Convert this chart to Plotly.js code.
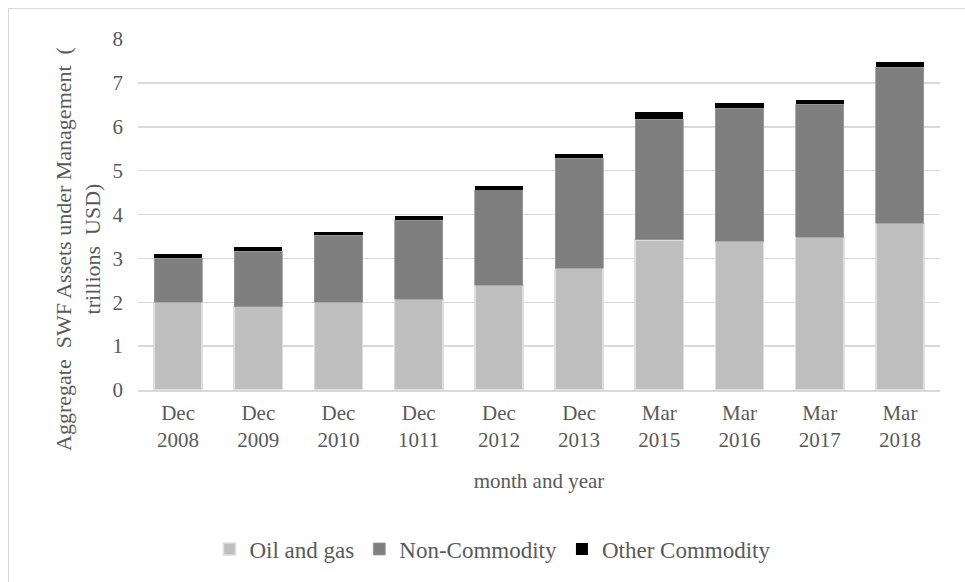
<!DOCTYPE html>
<html>
<head>
<meta charset="utf-8">
<script src="https://cdn.plot.ly/plotly-3.0.1.min.js"></script>
<style>
  html, body { margin: 0; padding: 0; background: #fff; }
  #wrap { position: relative; width: 965px; height: 582px; overflow: hidden; }
  #chart { position: absolute; left: 0; top: 0; width: 965px; height: 582px; }
  #frame { position: absolute; left: 8px; top: 8px; width: 970px; height: 590px;
           border-left: 1px solid #d9d9d9; border-top: 1px solid #d9d9d9; pointer-events: none; }
</style>
</head>
<body>
<div id="wrap">
  <div id="chart"></div>
  <div id="frame"></div>
</div>
<script>
const categories = ["Dec<br>2008", "Dec<br>2009", "Dec<br>2010", "Dec<br>1011", "Dec<br>2012",
                    "Dec<br>2013", "Mar<br>2015", "Mar<br>2016", "Mar<br>2017", "Mar<br>2018"];
const oilAndGas      = [2.00, 1.90, 2.00, 2.07, 2.39, 2.77, 3.42, 3.39, 3.48, 3.80];
const nonCommodity   = [1.00, 1.26, 1.53, 1.80, 2.17, 2.51, 2.75, 3.03, 3.03, 3.56];
const otherCommodity = [0.09, 0.09, 0.08, 0.10, 0.09, 0.11, 0.17, 0.12, 0.11, 0.11];
const yTicks = [0, 1, 2, 3, 4, 5, 6, 7, 8];

const font = "'Liberation Serif', 'Times New Roman', serif";
const textColor = "#595959";

const traces = [
  { type: "bar", name: "Oil and gas", x: categories, y: oilAndGas,
    marker: { color: "#bfbfbf", line: { color: "#dedede", width: 1.5 } } },
  { type: "bar", name: "Non-Commodity", x: categories, y: nonCommodity,
    marker: { color: "#7f7f7f", line: { color: "#9a9a9a", width: 0.8 } } },
  { type: "bar", name: "Other Commodity", x: categories, y: otherCommodity,
    marker: { color: "#000000", line: { color: "#000000", width: 0 } } }
];

const layout = {
  width: 965, height: 582,
  barmode: "stack", bargap: 0.4,
  paper_bgcolor: "#ffffff", plot_bgcolor: "#ffffff",
  margin: { l: 138, r: 25, t: 39, b: 192 },
  font: { family: font, color: textColor, size: 21 },
  showlegend: true,
  legend: {
    orientation: "h", x: 0.442, xanchor: "center", y: -0.453, yanchor: "middle",
    font: { family: font, size: 23, color: textColor },
    traceorder: "normal", itemwidth: 30, tracegroupgap: 0
  },
  xaxis: {
    type: "category", showgrid: false, zeroline: false,
    showline: true, linecolor: "#d9d9d9", linewidth: 1.5,
    ticks: "", ticklabelstandoff: 3, tickfont: { family: font, size: 21, color: textColor },
    title: { text: "month and year", font: { family: font, size: 21, color: textColor }, standoff: 22 }
  },
  yaxis: {
    range: [0, 8], tickvals: yTicks, ticktext: yTicks.map(String),
    showgrid: true, gridcolor: "#d9d9d9", gridwidth: 1.5,
    zeroline: false, showline: false, ticks: "", ticklabelstandoff: 14,
    tickfont: { family: font, size: 21, color: textColor }
  },
  annotations: [{
    text: "Aggregate  SWF Assets under Management  (<br>trillions  USD)",
    textangle: -90, xref: "paper", yref: "paper", x: -0.0748, y: 0.402,
    xanchor: "center", yanchor: "middle", showarrow: false,
    font: { family: font, size: 22, color: textColor }
  }]
};

Plotly.newPlot("chart", traces, layout, { displayModeBar: false, staticPlot: true });
</script>
</body>
</html>
